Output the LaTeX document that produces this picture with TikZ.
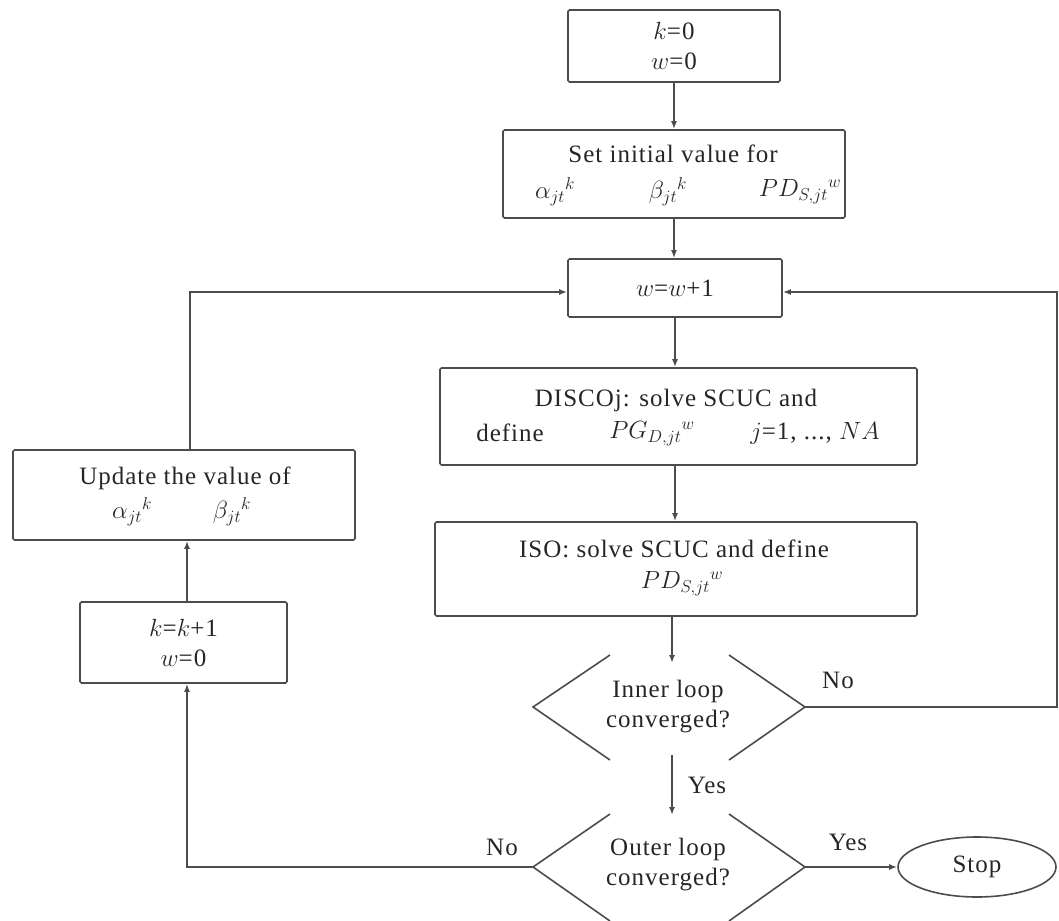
\documentclass[tikz,border=0pt]{standalone}
\usepackage{fontspec}
\setmainfont[LetterSpace=4]{Liberation Serif}
\usetikzlibrary{arrows.meta,shapes.geometric}
\begin{document}
\begin{tikzpicture}[x=1pt,y=-1pt,
  every node/.style={font=\fontsize{25}{30}\selectfont, text=black!85},
  box/.style={draw=black!70, line width=1.6pt, rounded corners=1.5pt, align=center, inner sep=0pt},
  txt/.style={inner sep=0pt, align=center},
  line/.style={draw=black!70, line width=1.6pt},
  arr/.style={line, -{Latex[length=8pt,width=6pt]}},
  lbl/.style={inner sep=1pt}]
\useasboundingbox (0,0) rectangle (1059,920);

% boxes
\node[box, minimum width=212, minimum height=72] (k0) at (674,46) {$k$=0\\$w$=0};
\node[box, minimum width=342, minimum height=88] (init) at (674,174) {};
\node[txt] (initA) at (673,154) {Set initial value for};
\node[txt] (initB) at (555,192) {$\alpha_{jt}{}^{k}$};
\node[txt] (initC) at (668,192) {$\beta_{jt}{}^{k}$};
\node[txt] (initD) at (800,192) {$PD_{S,jt}{}^{w}$};

\node[box, minimum width=214, minimum height=58] (w1) at (675,288) {$w$=$w$+1};

\node[box, minimum width=477, minimum height=97] (disco) at (678.5,416.5) {};
\node[txt] (discoA) at (676,400) {DISCOj: solve SCUC and};
\node[txt] (discoB) at (510,433) {define};
\node[txt] (discoC) at (652,434) {$PG_{D,jt}{}^{w}$};
\node[txt] (discoD) at (815,433) {$j$=1, ..., $NA$};

\node[box, minimum width=482, minimum height=94] (iso) at (676,569) {};
\node[txt] (isoA) at (674,549) {ISO: solve SCUC and define};
\node[txt] (isoB) at (682,584) {$PD_{S,jt}{}^{w}$};

\node[box, minimum width=342, minimum height=90] (upd) at (184,495) {};
\node[txt] (updA) at (185,478) {Update the value of};
\node[txt] (updB) at (132,512) {$\alpha_{jt}{}^{k}$};
\node[txt] (updC) at (232,512) {$\beta_{jt}{}^{k}$};

\node[box, minimum width=207, minimum height=81] (kb) at (183.5,642.5) {$k$=$k$+1\\$w$=0};

% diamonds (open at top and bottom)
\node[txt] (inner) at (668,707) {Inner loop\\converged?};
\coordinate (inL) at (533,707);
\coordinate (inR) at (805,707);
\coordinate (inT) at (672,663);
\coordinate (inB) at (672,755);
\draw[line] (610,655) -- (inL) -- (610,760);
\draw[line] (729,655) -- (inR) -- (729,760);

\node[txt] (outer) at (668,865) {Outer loop\\converged?};
\coordinate (outL) at (533,867);
\coordinate (outR) at (805,867);
\coordinate (outT) at (672,815);
\draw[line] (610,814) -- (outL) -- (610,921);
\draw[line] (729,814) -- (outR) -- (729,921);

\node[draw=black!70, line width=1.6pt, ellipse, minimum width=158, minimum height=60, inner sep=0pt] (stop) at (977,867) {Stop};

% connectors
\draw[arr] (k0.south) -- (init.north -| k0.south);
\draw[arr] (init.south -| k0.south) -- (w1.north -| k0.south);
\draw[arr] (w1.south) -- (disco.north -| w1.south);
\draw[arr] (disco.south -| w1.south) -- (iso.north -| w1.south);
\draw[arr] (iso.south -| inT) -- (inT);
\draw[arr] (inB) -- (outT) node[midway, right=14pt, lbl] (yes1) {Yes};
\draw[arr] (inR) -- (1057,707) -- (1057,292) -- (w1.east |- 0,292);
\node[lbl] (no1) at (838,680) {No};
\draw[arr] (outR) -- (stop.west);
\node[lbl] (yes2) at (848,842) {Yes};
\draw[arr] (outL) -- (187,867) -- (kb.south -| 187,0);
\node[lbl] (no2) at (502,847) {No};
\draw[arr] (kb.north -| 187,0) -- (upd.south -| 187,0);
\draw[arr] (upd.north -| 190,0) -- (190,292) -- (w1.west |- 0,292);
\end{tikzpicture}
\end{document}
